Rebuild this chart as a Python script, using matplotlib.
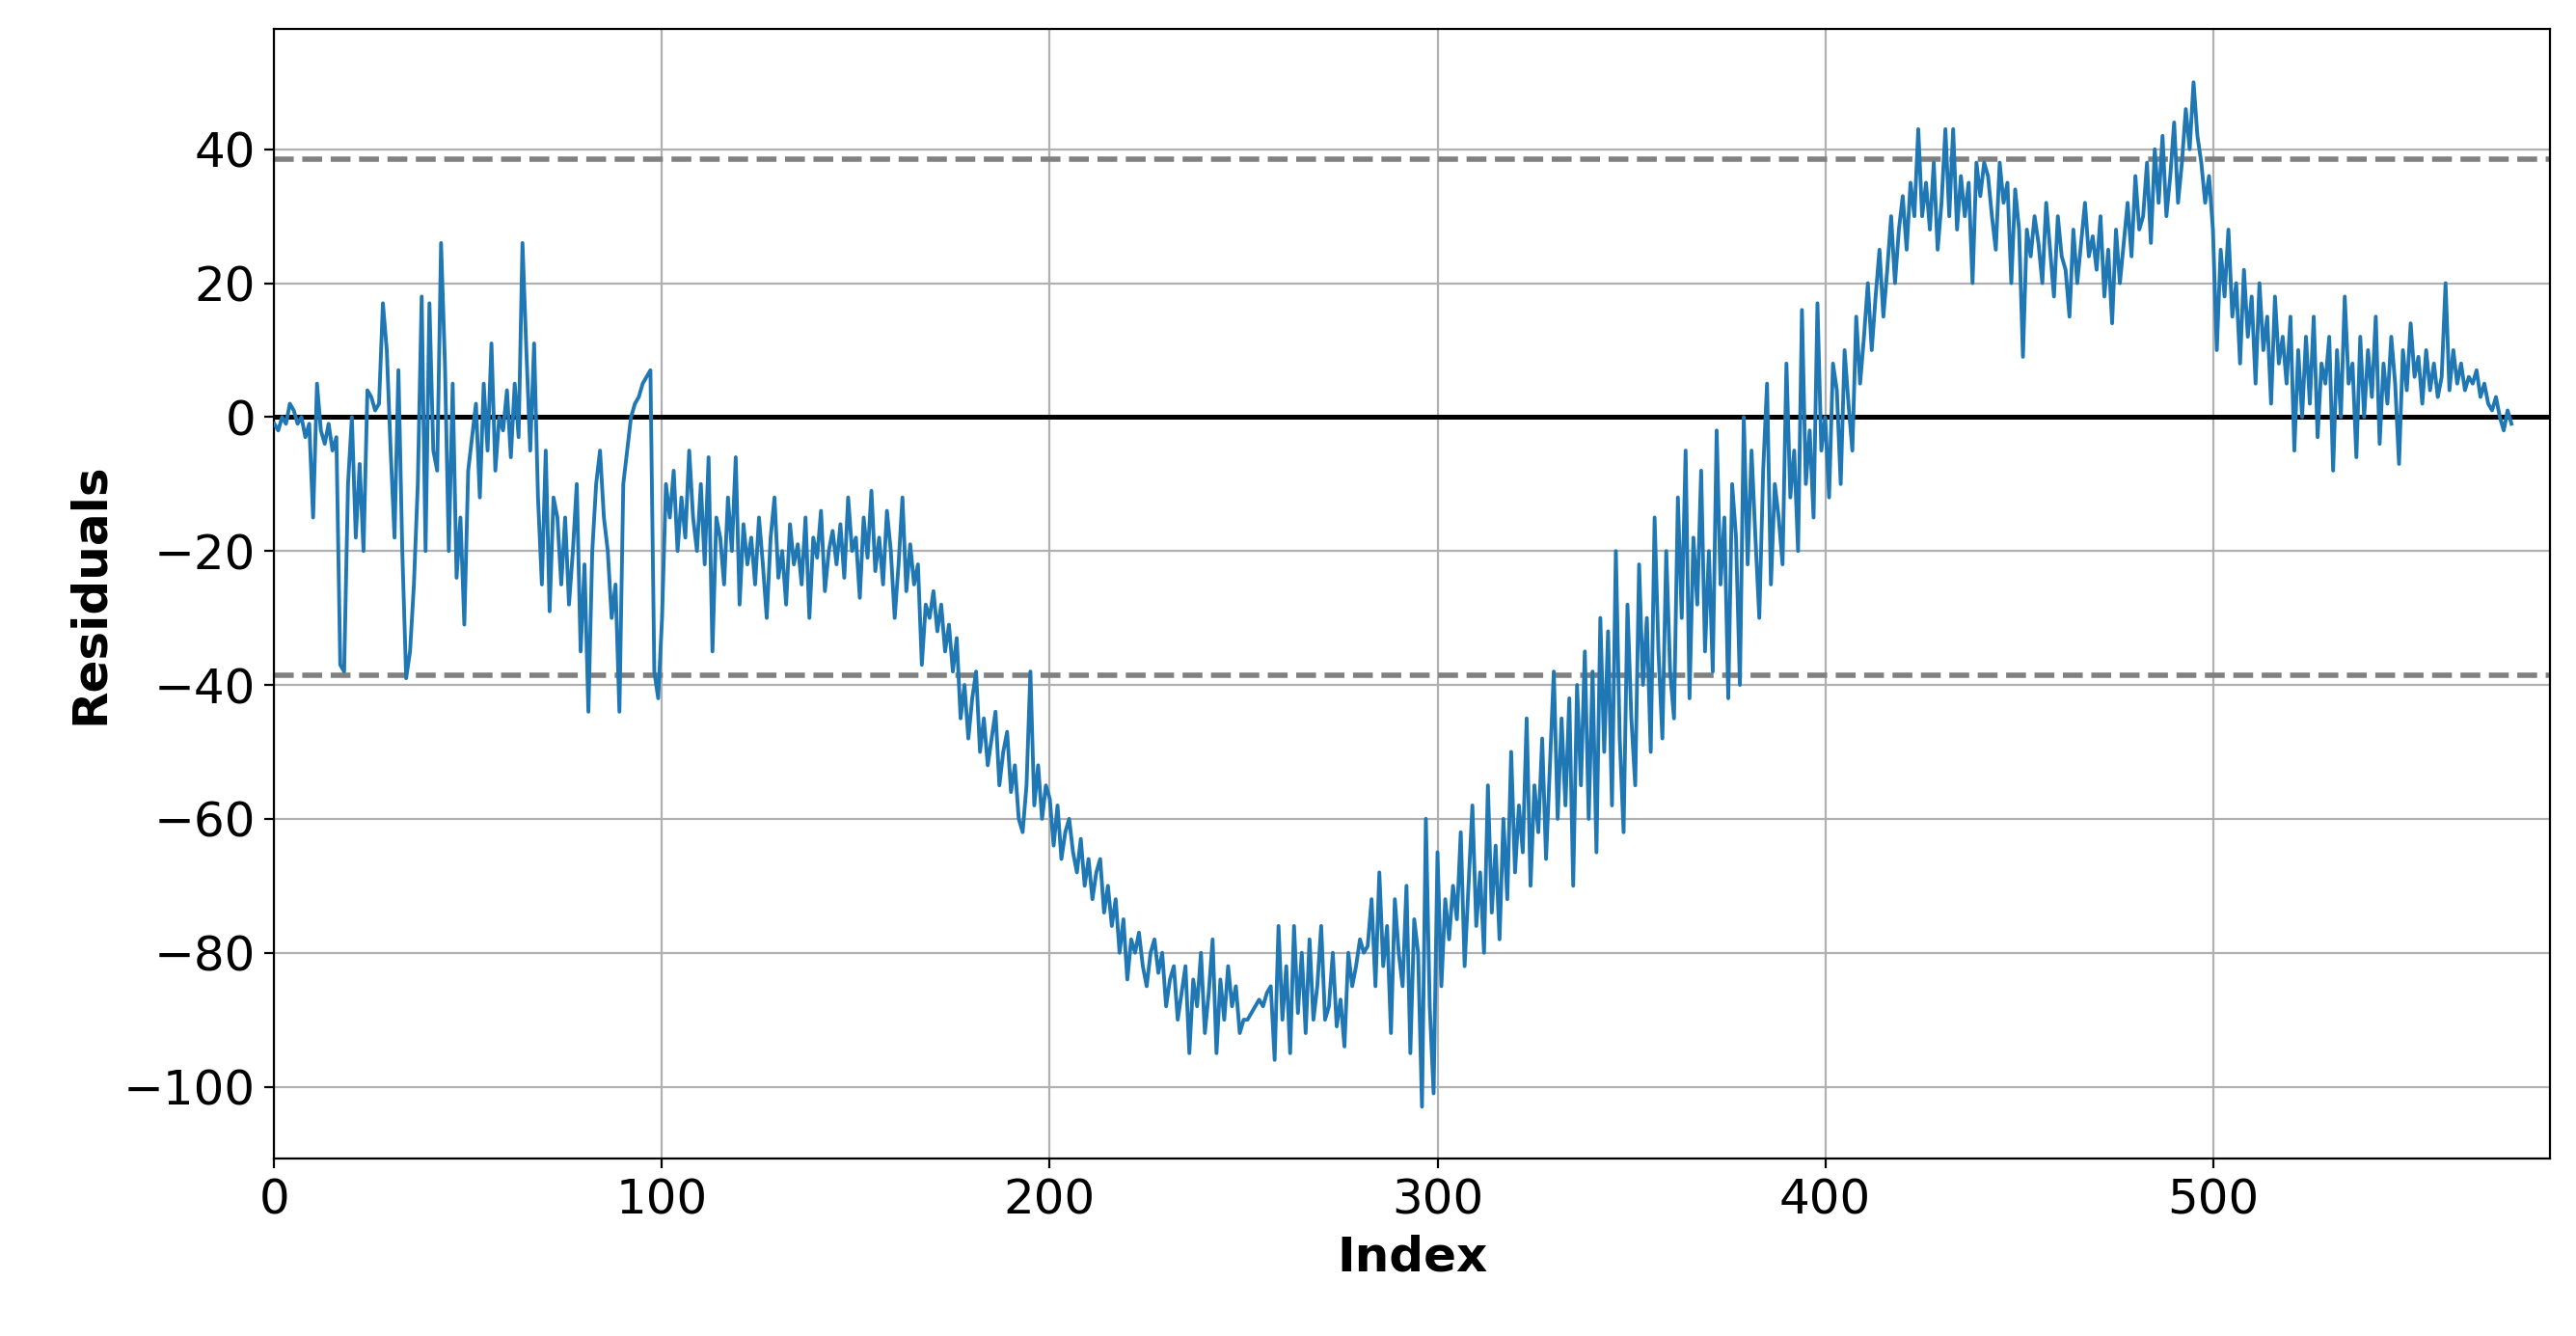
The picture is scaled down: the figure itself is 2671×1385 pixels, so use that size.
import matplotlib
matplotlib.use("Agg")
import matplotlib.pyplot as plt
import numpy as np

# residual values, in blocks of roughly 20 points
seg_000 = [-1, -2, 0, -1, 2, 1, -1, 0, -3, -1, -15, 5, -2, -4, -1, -5, -3, -37, -38, -10, 0, -18]
seg_020 = [-7, -20, 4, 3, 1, 2, 17, 10, -5, -18, 7, -20, -39, -35, -25, -10, 18, -20, 17, -5]
seg_040 = [-8, 26, 8, -20, 5, -24, -15, -31, -8, -3, 2, -12, 5, -5, 11, -8, 0, -2, 4, -6, 5, -3, 26]
seg_060 = [10, -5, 11, -12, -25, -5, -29, -12, -15, -25, -15, -28, -20, -10, -35, -22, -44, -20, -10, -5]
seg_080 = [-15, -20, -30, -25, -44, -10, -5, 0, 2, 3, 5, 6, 7, -38, -42, -30, -10, -15, -8, -20]
seg_100 = [-12, -18, -5, -15, -20, -10, -22, -6, -35, -15, -18, -25, -12, -20, -6, -28, -16, -22, -18, -25]
seg_120 = [-15, -22, -30, -18, -12, -24, -20, -28, -16, -22, -19, -25, -15, -30, -18, -21, -14, -26, -20, -17]
seg_140 = [-22, -16, -24, -12, -20, -18, -27, -15, -21, -11, -23, -18, -25, -14, -20, -30, -22, -12, -26, -19]
seg_160 = [-25, -22, -37, -28, -30, -26, -32, -28, -35, -31, -38, -33, -45, -40, -48, -42, -38, -50, -45, -52]
seg_180 = [-48, -44, -55, -50, -47, -56, -52, -60, -62, -55, -38, -58, -52, -60, -55, -57, -64, -58, -66, -62]
seg_200 = [-60, -65, -68, -63, -70, -66, -72, -68, -66, -74, -70, -76, -72, -80, -75, -84, -78, -80, -77, -82]
seg_220 = [-85, -80, -78, -83, -80, -88, -84, -82, -90, -86, -82, -95, -84, -88, -80, -92, -86, -78, -95, -84]
seg_240 = [-90, -82, -88, -85, -92, -90, -90, -89, -88, -87, -88, -86, -85, -96, -76, -90, -82, -95, -76, -89]
seg_260 = [-80, -92, -78, -90, -85, -76, -90, -88, -80, -91, -87, -94, -80, -85, -82, -78, -80, -79, -72, -85]
seg_280 = [-68, -82, -76, -92, -72, -80, -85, -70, -95, -75, -80, -103, -60, -88, -101, -65, -85, -72, -78, -70]
seg_300 = [-75, -62, -82, -70, -58, -76, -68, -80, -55, -74, -64, -78, -60, -72, -50, -68, -58, -65, -45, -70]
seg_320 = [-55, -62, -48, -66, -52, -38, -60, -45, -58, -42, -70, -40, -55, -35, -60, -38, -65, -30, -50, -32]
seg_340 = [-58, -20, -48, -62, -28, -45, -55, -22, -40, -30, -50, -15, -35, -48, -20, -38, -45, -12, -30, -5]
seg_360 = [-42, -18, -28, -8, -35, -20, -38, -2, -25, -15, -42, -10, -18, -40, 0, -22, -5, -18, -30, -8]
seg_380 = [5, -25, -10, -15, -22, 8, -12, -5, -20, 16, -10, -2, -15, 17, -5, 0, -12, 8, 4, -10]
seg_400 = [10, 2, -5, 15, 5, 12, 20, 10, 18, 25, 15, 22, 30, 20, 28, 33, 25, 35, 30, 43]
seg_420 = [30, 35, 28, 38, 25, 32, 43, 30, 43, 28, 36, 30, 35, 20, 38, 33, 38, 36, 30, 25]
seg_440 = [38, 32, 35, 20, 34, 28, 9, 28, 24, 30, 26, 20, 32, 25]
seg_460 = [18, 30, 24, 22, 15, 28, 20, 26, 32, 24, 27, 22, 30, 18, 25, 14, 28, 20, 26, 32]
seg_480 = [24, 36, 28, 30, 38, 26, 40, 32, 42, 30, 36, 44, 32, 38, 46, 40, 50, 42, 38, 32]
seg_500 = [36, 28, 10, 25, 18, 28, 15, 20, 8, 22, 12, 18, 5, 20, 10, 15, 2, 18, 8, 12]
seg_520 = [5, 15, -5, 10, 0, 12, 2, 15, -3, 8, 5, 12, -8, 10, 0, 18, 5, 8, -6, 12]
seg_540 = [0, 10, 3, 15, -4, 8, 2, 12, 5, -7, 10, 4, 14, 6, 9, 2, 10, 4, 8, 3]
seg_560 = [6, 20, 4, 10, 5, 8, 4, 6, 5, 7, 3, 5]
seg_580 = [2, 1, 3, 0, -2, 1, -1]

THRESHOLD = 38.5

residuals = np.array(
    seg_000 + seg_020 + seg_040 + seg_060 + seg_080 + seg_100 + seg_120 + seg_140
    + seg_160 + seg_180 + seg_200 + seg_220 + seg_240 + seg_260 + seg_280 + seg_300
    + seg_320 + seg_340 + seg_360 + seg_380 + seg_400 + seg_420 + seg_440 + seg_460
    + seg_480 + seg_500 + seg_520 + seg_540 + seg_560 + seg_580,
    dtype=float,
)
index = np.arange(len(residuals))

fig, ax = plt.subplots(figsize=(13.355, 6.925), dpi=200)
fig.subplots_adjust(left=0.1065, right=0.990, top=0.978, bottom=0.133)

ax.plot(index, residuals, color="#1f77b4", linewidth=1.4, zorder=3)
ax.axhline(0, color="black", linewidth=1.8, zorder=2)
ax.axhline(THRESHOLD, color="gray", linestyle="--", linewidth=2.0, zorder=2)
ax.axhline(-THRESHOLD, color="gray", linestyle="--", linewidth=2.0, zorder=2)

ax.set_xlim(0, 587)
ax.set_ylim(-110.7, 57.9)
ax.set_xticks([0, 100, 200, 300, 400, 500])
ax.set_yticks([-100, -80, -60, -40, -20, 0, 20, 40])
ax.grid(True, color="#b0b0b0", linewidth=0.8)
ax.tick_params(labelsize=18)
ax.set_xlabel("Index", fontsize=18, fontweight="bold")
ax.set_ylabel("Residuals", fontsize=18, fontweight="bold")

fig.savefig("out.png", dpi=200)
plt.close(fig)
